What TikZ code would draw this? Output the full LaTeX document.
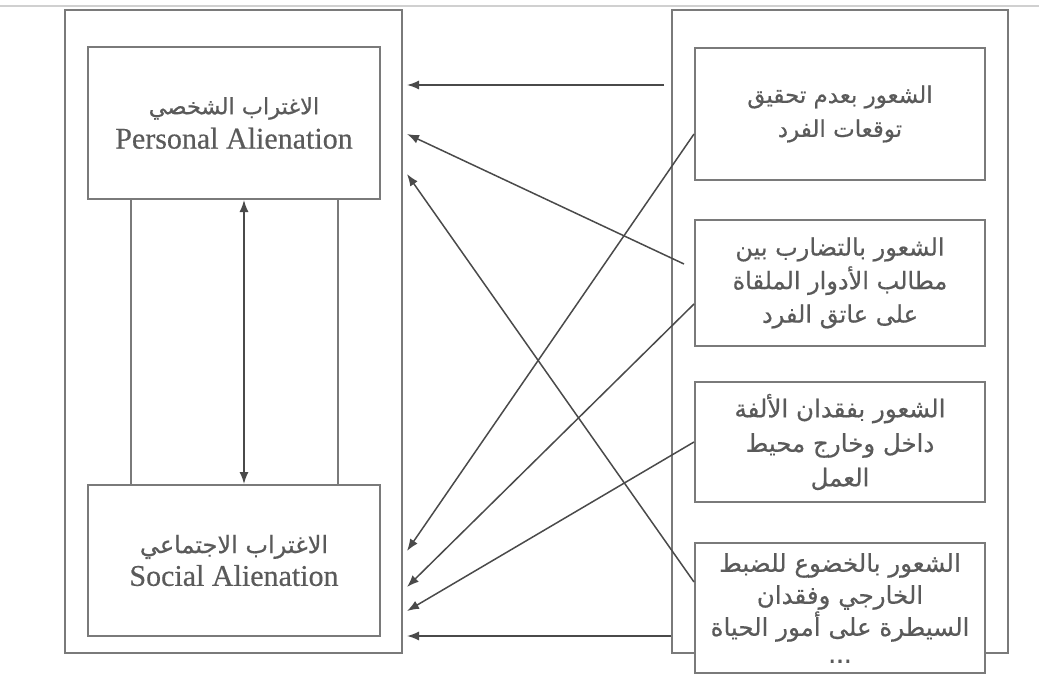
\documentclass[tikz,border=0pt]{standalone}
\usepackage{fontspec}
\setmainfont{Liberation Serif}[FakeBold=0.4]
\newfontfamily\arabicfont[Script=Arabic,FakeBold=0.5]{DejaVu Sans}
\TeXXeTstate=1
\usetikzlibrary{arrows.meta,calc}
\definecolor{boxgray}{HTML}{7A7A7A}
\definecolor{linegray}{HTML}{4A4A4A}
\definecolor{txtgray}{HTML}{5A5A5A}
\definecolor{rulegray}{HTML}{D0D0D0}
\newcommand{\rtltext}[1]{\beginR #1\endR}
\begin{document}
\begin{tikzpicture}[x=1pt,y=-1pt,
  frame/.style={draw=boxgray, line width=2pt, fill=white, inner sep=0pt},
  sidebox/.style={frame, minimum width=292pt, text=txtgray, align=center},
  factor/.style={frame, minimum width=290pt, text=txtgray, align=center,
    font=\arabicfont\fontsize{23}{34}\selectfont},
  link/.style={draw=boxgray, line width=2pt},
  conn/.style={draw=linegray, line width=1.5pt, -{Latex[length=12pt,width=9pt]}},
  dconn/.style={draw=linegray, line width=1.5pt, {Latex[length=12pt,width=9pt]}-{Latex[length=12pt,width=9pt]}}]
\useasboundingbox (0,0) rectangle (1039,677);
\draw[rulegray, line width=2pt] (0,6) -- (1039,6);

% left frame: the two kinds of alienation
\node[frame, minimum width=337pt, minimum height=643pt] (lout) at (233.5,331.5) {};
\node[sidebox, minimum height=152pt] (pers) at (234,123)
  {{\arabicfont\fontsize{22.5}{24}\selectfont\rtltext{الاغتراب الشخصي}}\\[7pt]
   \fontsize{30}{36}\selectfont Personal Alienation};
\node[sidebox, minimum height=151pt] (soc) at (234,560.5)
  {{\arabicfont\fontsize{24}{24}\selectfont\rtltext{الاغتراب الاجتماعي}}\\[5pt]
   \fontsize{30}{34}\selectfont Social Alienation};
\draw[link] ($(pers.south west)+(44,0)$) -- ($(soc.north west)+(44,0)$);
\draw[link] ($(pers.south east)+(-43,0)$) -- ($(soc.north east)+(-43,0)$);
\draw[dconn] ($(pers.south)+(10,0)$) -- ($(soc.north)+(10,0)$);

% right frame: the feelings that lead to alienation
\node[frame, minimum width=336pt, minimum height=643pt] (rout) at (840,331.5) {};
\node[factor, minimum height=132pt] (b1) at (840,114)
  {\rtltext{الشعور بعدم تحقيق}\\ \rtltext{توقعات الفرد}};
\node[factor, minimum height=126pt, font=\arabicfont\fontsize{24}{33.5}\selectfont] (b2) at (840,283)
  {\rtltext{الشعور بالتضارب بين}\\ \rtltext{مطالب الأدوار الملقاة}\\ \rtltext{على عاتق الفرد}};
\node[factor, minimum height=120pt, font=\arabicfont\fontsize{24.5}{34.5}\selectfont] (b3) at (840,442)
  {\rtltext{الشعور بفقدان الألفة}\\ \rtltext{داخل وخارج محيط}\\ \rtltext{العمل}};
\node[factor, minimum height=130pt, font=\arabicfont\fontsize{24.5}{32}\selectfont] (b4) at (840,608)
  {\rtltext{الشعور بالخضوع للضبط}\\ \rtltext{الخارجي وفقدان}\\ \rtltext{السيطرة على أمور الحياة}\\[-5pt] ...};

% influences on personal alienation
\draw[conn] ($(rout.north west)+(-7,76)$) -- ($(lout.north east)+(4,76)$);
\draw[conn] ($(b2.north west)+(-10,45)$) -- ($(lout.north east)+(4,125)$);
\draw[conn] ($(b4.north west)+(0,40)$) -- ($(lout.north east)+(4,165)$);
% influences on social alienation
\draw[conn] ($(b1.north west)+(0,87)$) -- ($(lout.north east)+(4,542)$);
\draw[conn] ($(b2.north west)+(0,85)$) -- ($(lout.north east)+(4,578)$);
\draw[conn] ($(b3.north west)+(0,61)$) -- ($(lout.north east)+(4,602)$);
\draw[conn] ($(rout.north west)+(0,627)$) -- ($(lout.north east)+(4,627)$);
\end{tikzpicture}
\end{document}
